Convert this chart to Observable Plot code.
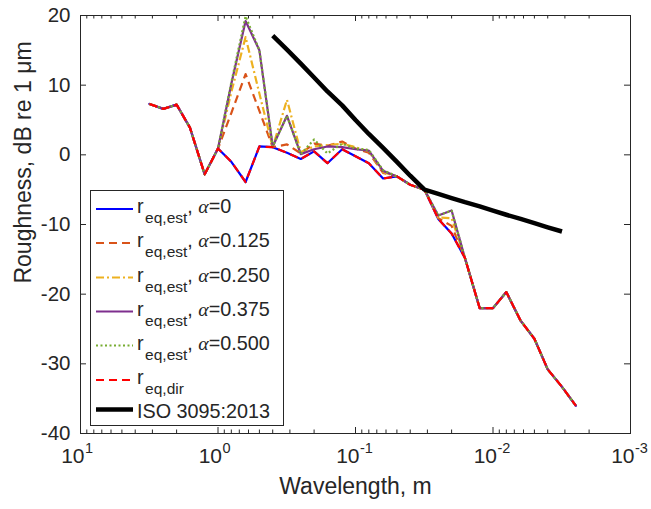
<!DOCTYPE html>
<html>
<head>
<meta charset="utf-8">
<script src="https://cdn.jsdelivr.net/npm/d3@7"></script>
<script src="https://cdn.jsdelivr.net/npm/@observablehq/plot@0.6"></script>
<style>
  body { margin: 0; background: #fff; }
  #chart { position: relative; width: 651px; height: 509px; font-family: "Liberation Sans", Arial, sans-serif; color: #262626; }
  #legend { position: absolute; left: 89.5px; top: 189.5px; overflow: visible; }
</style>
</head>
<body>
<div id="chart"></div>
<script>
// Third-octave wavelength bands, m
const wavelength = [3.15, 2.5, 2, 1.6, 1.25, 1, 0.8, 0.63, 0.5, 0.4, 0.315, 0.25, 0.2, 0.16, 0.125, 0.1,
  0.08, 0.063, 0.05, 0.04, 0.0315, 0.025, 0.02, 0.016, 0.0125, 0.01, 0.008, 0.0063, 0.005, 0.004, 0.00315, 0.0025];

// Estimated equivalent roughness, dB re 1 µm, for each alpha
const rEstAlpha0 = [7.3, 6.6, 7.2, 3.9, -2.8, 0.9, -1.0, -3.9, 1.2, 1.1, 0.3, -0.6, 0.5, -1.2, 0.8, -0.2,
  -1.2, -3.4, -3.1, -4.3, -5.0, -9.2, -11.3, -14.8, -22.0, -22.0, -19.7, -23.8, -26.4, -30.8, -33.3, -36.0];
const rEstAlpha0125 = [7.3, 6.6, 7.2, 3.9, -2.8, 0.9, 6.0, 11.6, 6.3, 1.1, 1.5, 0.2, 1.6, 1.3, 1.9, 0.9,
  0.3, -2.6, -3.1, -4.3, -5.0, -9.1, -10.2, -14.8, -22.0, -22.0, -19.7, -23.8, -26.4, -30.8, -33.3, -36.0];
const rEstAlpha0250 = [7.3, 6.6, 7.2, 3.9, -2.8, 0.9, 9.0, 16.9, 8.8, 1.1, 7.9, 0.4, 1.2, 1.4, 1.6, 1.1,
  0.5, -2.5, -3.1, -4.3, -5.0, -9.0, -9.1, -14.8, -22.0, -22.0, -19.7, -23.8, -26.4, -30.8, -33.3, -36.0];
const rEstAlpha0375 = [7.3, 6.6, 7.2, 3.9, -2.8, 0.9, 10.2, 19.2, 15.0, 1.2, 5.6, 0.1, 0.8, 1.2, 1.1, 0.8,
  0.6, -2.3, -3.1, -4.3, -5.0, -8.7, -8.0, -14.8, -22.0, -22.0, -19.7, -23.8, -26.4, -30.8, -33.3, -36.0];
const rEstAlpha0500 = [7.3, 6.6, 7.2, 3.9, -2.8, 0.9, 10.4, 19.9, 15.0, 1.2, 5.6, 0.1, 2.2, 0.2, 1.6, 0.9,
  0.7, -2.2, -3.1, -4.3, -5.0, -8.7, -8.0, -14.8, -22.0, -22.0, -19.7, -23.8, -26.4, -30.8, -33.3, -36.0];
// Directly measured equivalent roughness
const rDir = [7.3, 6.6, 7.2, 3.9, -2.8, 0.9, -1.0, -3.9, 1.2, 1.1, 0.3, -0.6, 0.5, -1.2, 0.8, -0.2,
  -1.2, -3.4, -3.1, -4.3, -5.0, -9.2, -11.3, -14.8, -22.0, -22.0, -19.7, -23.8, -26.4, -30.8, -33.3, -36.0];

// ISO 3095:2013 roughness limit spectrum
const isoWavelength = [0.4, 0.315, 0.25, 0.2, 0.16, 0.125, 0.1, 0.08, 0.063, 0.05, 0.04, 0.0315,
  0.025, 0.02, 0.016, 0.0125, 0.01, 0.008, 0.0063, 0.005, 0.004, 0.00315];
const isoLimit = [17.1, 15.1, 13.1, 11.1, 9.1, 7.1, 5.0, 3.0, 1.0, -1.0, -3.0, -5.0,
  -5.6, -6.2, -6.8, -7.4, -8.0, -8.6, -9.2, -9.8, -10.4, -11.0];

// Legend texts
const seriesSub = ["eq,est", "eq,est", "eq,est", "eq,est", "eq,est", "eq,dir"];
const seriesAlpha = ["0", "0.125", "0.250", "0.375", "0.500", null];
const isoName = "ISO 3095:2013";

// Axis ticks
const xMajor = [10, 1, 0.1, 0.01, 0.001];
const yTicks = [-40, -30, -20, -10, 0, 10, 20];
const xDomain = [10, 0.001];
const yDomain = [-40, 20];

// Styling (line colours and dash patterns, in draw order)
const seriesValues = [rEstAlpha0, rEstAlpha0125, rEstAlpha0250, rEstAlpha0375, rEstAlpha0500, rDir];
const seriesStyle = [
  {stroke: "#0000FF", dash: null},
  {stroke: "#D95319", dash: "8 5"},
  {stroke: "#EDB120", dash: "8 3 2 3"},
  {stroke: "#7E2F8E", dash: null},
  {stroke: "#77AC30", dash: "2 2.5"},
  {stroke: "#FF0000", dash: "8 5"}
];
const axisColor = "#262626";
const W = 651, H = 509;
const margin = {top: 15, right: 21, bottom: 76, left: 80};
const frameW = W - margin.left - margin.right;
const frameH = H - margin.top - margin.bottom;
const majorLen = 6, minorLen = 3.5;

// Minor log ticks 2..9 in each decade
const xMinor = [];
for (const b of [0.001, 0.01, 0.1, 1]) for (let k = 2; k <= 9; ++k) xMinor.push(+(b * k).toPrecision(3));

const seriesMarks = seriesValues.map((vals, s) =>
  Plot.line(wavelength.map((w, i) => ({w, v: vals[i]})), {
    x: "w", y: "v",
    stroke: seriesStyle[s].stroke,
    strokeWidth: 2.2,
    strokeDasharray: seriesStyle[s].dash,
    strokeLinecap: seriesStyle[s].dash ? "butt" : "round",
    strokeLinejoin: "round"
  })
);

const chart = Plot.plot({
  width: W, height: H,
  marginTop: margin.top, marginRight: margin.right, marginBottom: margin.bottom, marginLeft: margin.left,
  x: {type: "log", domain: xDomain, axis: null},
  y: {type: "linear", domain: yDomain, axis: null},
  style: {fontFamily: "Liberation Sans, Arial, sans-serif", color: axisColor, background: "white", overflow: "visible"},
  marks: [
    ...seriesMarks,
    Plot.line(isoWavelength.map((w, i) => ({w, v: isoLimit[i]})), {x: "w", y: "v", stroke: "black", strokeWidth: 4.5, strokeLinecap: "butt"}),
    Plot.frame({stroke: axisColor, strokeWidth: 1}),
    // inward ticks on all four sides
    Plot.tickX(xMajor, {x: d => d, insetTop: frameH - majorLen, stroke: axisColor}),
    Plot.tickX(xMajor, {x: d => d, insetBottom: frameH - majorLen, stroke: axisColor}),
    Plot.tickX(xMinor, {x: d => d, insetTop: frameH - minorLen, stroke: axisColor}),
    Plot.tickX(xMinor, {x: d => d, insetBottom: frameH - minorLen, stroke: axisColor}),
    Plot.tickY(yTicks, {y: d => d, insetRight: frameW - majorLen, stroke: axisColor}),
    Plot.tickY(yTicks, {y: d => d, insetLeft: frameW - majorLen, stroke: axisColor}),
    // tick labels
    Plot.text(yTicks, {y: d => d, text: d => String(d), frameAnchor: "left", textAnchor: "end", dx: -10, fontSize: 20.5}),
    Plot.text(xMajor, {x: d => d, text: () => "10", frameAnchor: "bottom", textAnchor: "end", dx: 4, dy: 29, fontSize: 21}),
    Plot.text(xMajor, {x: d => d, text: d => String(Math.round(Math.log10(d))), frameAnchor: "bottom", textAnchor: "start", dx: 4.5, dy: 19, fontSize: 14.5}),
    // axis titles
    Plot.text(["Wavelength, m"], {frameAnchor: "bottom", textAnchor: "middle", dy: 60, fontSize: 23}),
    Plot.text(["Roughness, dB re 1 μm"], {frameAnchor: "left", textAnchor: "middle", rotate: -90, dx: -57, dy: -62, fontSize: 23})
  ]
});

const root = document.getElementById("chart");
root.appendChild(chart);

// Legend box inside the axes
const lg = d3.select(root).append("svg").attr("id", "legend").attr("width", 194).attr("height", 236);
lg.append("rect").attr("x", 0.5).attr("y", 0.5).attr("width", 193).attr("height", 235)
  .attr("fill", "white").attr("stroke", axisColor).attr("stroke-width", 1);
const rowBase = [23, 57, 91.5, 125.5, 159.5, 194];
seriesStyle.forEach((st, s) => {
  const b = rowBase[s];
  lg.append("line").attr("x1", 6).attr("x2", 43).attr("y1", b - 4).attr("y2", b - 4)
    .attr("stroke", st.stroke).attr("stroke-width", 2.2)
    .attr("stroke-dasharray", st.dash).attr("stroke-linecap", "butt");
  const t = lg.append("text").attr("x", 47).attr("y", b).attr("fill", axisColor)
    .style("font-family", "Liberation Sans, Arial, sans-serif").style("font-size", "19.8px");
  t.append("tspan").text("r");
  t.append("tspan").attr("dx", 1.5).attr("dy", 10).style("font-size", "15.5px").text(seriesSub[s]);
  if (seriesAlpha[s] !== null) {
    t.append("tspan").attr("dy", -10).text(", ");
    t.append("tspan").style("font-family", "Liberation Serif, Times New Roman, serif").style("font-style", "italic").text("α");
    t.append("tspan").text("=" + seriesAlpha[s]);
  }
});
lg.append("line").attr("x1", 6).attr("x2", 43).attr("y1", 219.5).attr("y2", 219.5)
  .attr("stroke", "black").attr("stroke-width", 4.5);
lg.append("text").attr("x", 47).attr("y", 227.5).attr("fill", axisColor)
  .style("font-family", "Liberation Sans, Arial, sans-serif").style("font-size", "19.8px").text(isoName);
</script>
</body>
</html>
